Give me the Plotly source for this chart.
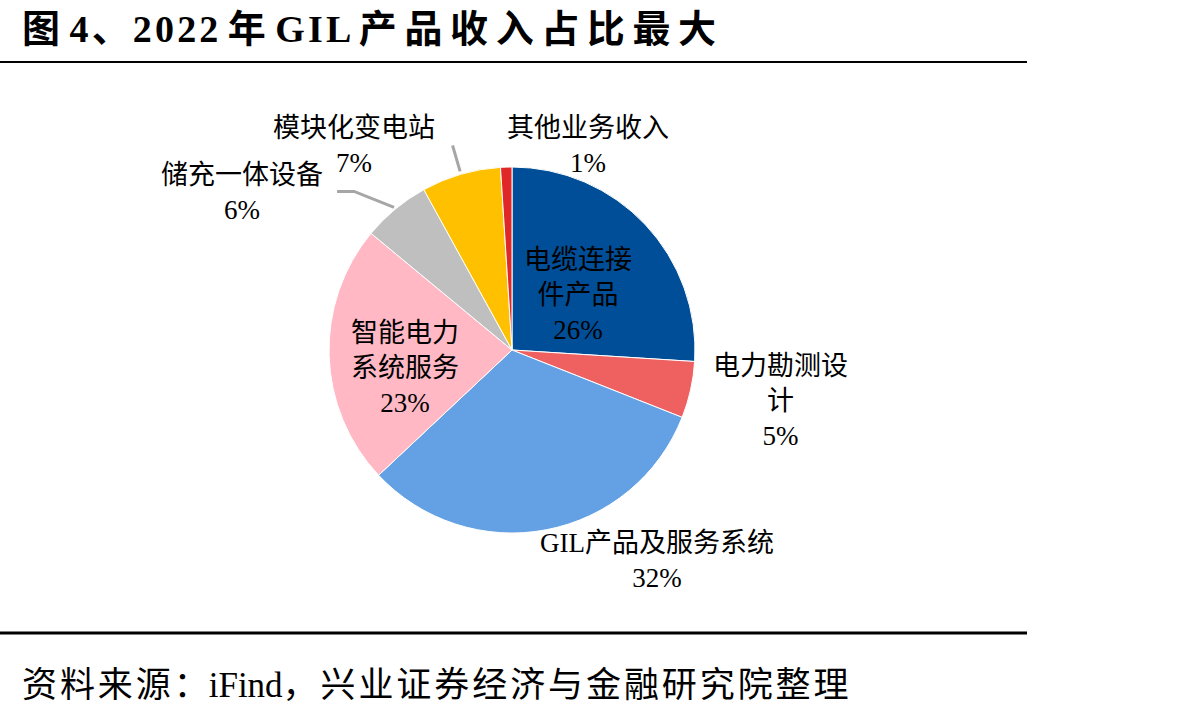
import math
import plotly.graph_objects as go

# ---- data ----
categories = ["电缆连接件产品", "电力勘测设计", "GIL产品及服务系统", "智能电力系统服务",
              "储充一体设备", "模块化变电站", "其他业务收入"]
label_text = ["电缆连接<br>件产品", "电力勘测设<br>计", "GIL产品及服务系统", "智能电力<br>系统服务",
              "储充一体设备", "模块化变电站", "其他业务收入"]
values = [26, 5, 32, 23, 6, 7, 1]
colors = ["#004E98", "#EF6161", "#64A1E4", "#FFB8C4", "#BFBFBF", "#FFC000", "#E02828"]

title = "图 4、2022 年 GIL 产品收入占比最大"
source = "资料来源：iFind，兴业证券经济与金融研究院整理"

W, H = 1192, 718
CX, CY, R = 512, 350, 183
FONT = "Liberation Serif, Noto Sans CJK SC, serif"


def px(x):
    return x / W


def py(y):
    return 1 - y / H


def spaced(s, sp_cjk, sp_other=""):
    out = ""
    for i, ch in enumerate(s):
        out += ch
        if i + 1 < len(s):
            nxt = s[i + 1]
            if ord(ch) > 0x2E80 and ord(nxt) > 0x2E80:
                out += sp_cjk
            elif ch != " " and nxt != " ":
                out += sp_other
    return out


fig = go.Figure()
fig.add_trace(go.Pie(
    labels=categories, values=values, sort=False, direction="clockwise", rotation=0,
    marker=dict(colors=colors, line=dict(color="white", width=1)),
    textinfo="none", hoverinfo="label+percent", showlegend=False,
    domain=dict(x=[px(CX - R), px(CX + R)], y=[py(CY + R), py(CY - R)]),
))

label_pos = [(578, 295), (780, 401), (657, 560), (405, 368), (242, 193), (354, 145), (588, 145)]

total = sum(values)
annotations = []
for i, (lab, v) in enumerate(zip(label_text, values)):
    pct = f"{round(100 * v / total)}%"
    x, y = label_pos[i]
    annotations.append(dict(
        x=px(x), y=py(y), xref="paper", yref="paper", showarrow=False,
        text=f"{lab}<br>{pct}", align="center", xanchor="center", yanchor="middle",
        font=dict(family=FONT, size=27, color="black"),
    ))

annotations.append(dict(x=px(20), y=py(29), xref="paper", yref="paper", showarrow=False,
                        text="<b>" + spaced(title, "\u2009", "\u200a") + "</b>",
                        xanchor="left", yanchor="middle",
                        font=dict(family=FONT, size=38, color="black")))
annotations.append(dict(x=px(20), y=py(685), xref="paper", yref="paper", showarrow=False,
                        text=spaced(source, "\u200a"), xanchor="left", yanchor="middle",
                        font=dict(family=FONT, size=35, color="black")))

cum = 0
mids = []
for v in values:
    mids.append((cum + v / 2) / total * 2 * math.pi)
    cum += v


def pt(angle, r):
    return CX + r * math.sin(angle), CY - r * math.cos(angle)


shapes = [
    dict(type="line", xref="paper", yref="paper", x0=0, x1=px(1027), y0=py(62), y1=py(62),
         line=dict(color="black", width=2)),
    dict(type="line", xref="paper", yref="paper", x0=0, x1=px(1027), y0=py(633), y1=py(633),
         line=dict(color="black", width=3)),
]
leader = "#A6A6A6"
a = mids[5]
x0, y0 = pt(a, R + 3)
x1, y1 = pt(a, R + 30)
shapes.append(dict(type="line", xref="paper", yref="paper", x0=px(x0), y0=py(y0), x1=px(x1), y1=py(y1),
                   line=dict(color=leader, width=3)))
a = mids[4]
x0, y0 = pt(a, R + 2)
x1, y1 = x0 - 40, y0 - 16
shapes.append(dict(type="path", xref="paper", yref="paper",
                   path=f"M {px(x0)} {py(y0)} L {px(x1)} {py(y1)} L {px(x1 - 17)} {py(y1)}",
                   line=dict(color=leader, width=3)))

fig.update_layout(
    width=W, height=H, margin=dict(l=0, r=0, t=0, b=0),
    paper_bgcolor="white", plot_bgcolor="white",
    annotations=annotations, shapes=shapes,
)

fig.write_html("out.html")
